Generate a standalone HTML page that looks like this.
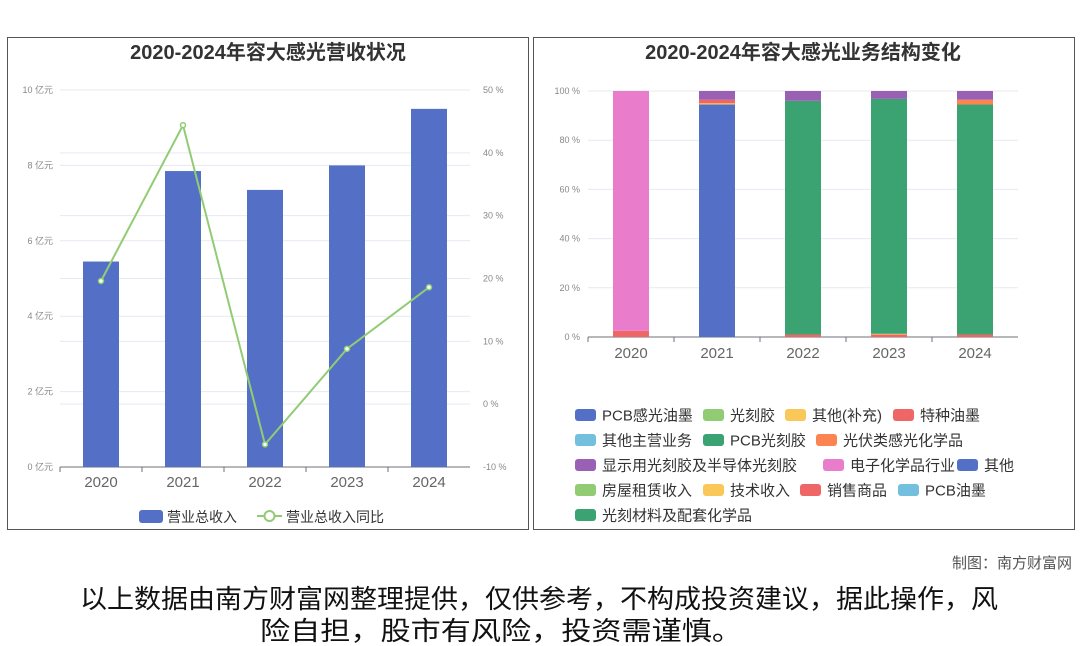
<!DOCTYPE html>
<html><head><meta charset="utf-8"><style>
body{margin:0;width:1080px;height:646px;background:#fff;overflow:hidden;font-family:"Liberation Sans","Noto Sans CJK SC",sans-serif;}
svg{position:absolute;left:0;top:0}
</style></head><body>
<svg id="s" width="1080" height="646" font-family="Liberation Sans, Noto Sans CJK SC, sans-serif">
<rect x="7.5" y="37.5" width="521" height="492" fill="none" stroke="#555"/>
<rect x="533.5" y="37.5" width="541" height="492" fill="none" stroke="#555"/>
<text x="268" y="59" text-anchor="middle" font-size="20" font-weight="bold" fill="#333">2020-2024年容大感光营收状况</text>
<text x="803" y="59" text-anchor="middle" font-size="20" font-weight="bold" fill="#333">2020-2024年容大感光业务结构变化</text>
<text x="1072" y="568" text-anchor="end" font-size="15" fill="#555">制图：南方财富网</text>
<text x="80" y="608" font-size="26" fill="#111" textLength="918" lengthAdjust="spacingAndGlyphs">以上数据由南方财富网整理提供，仅供参考，不构成投资建议，据此操作，风</text>
<text x="260" y="640" font-size="26" fill="#111" textLength="482" lengthAdjust="spacingAndGlyphs">险自担，股市有风险，投资需谨慎。</text>
<g id="L"></g><g id="R"></g>
</svg>
<script>
const years=['2020','2021','2022','2023','2024'];
const revenue=[5.45,7.85,7.35,8.0,9.5];
const growth=[19.6,44.4,-6.4,8.8,18.6];
const leftTicks=[0,2,4,6,8,10];
const rightTicks=[-10,0,10,20,30,40,50];
const segNames=['PCB感光油墨','光刻胶','其他(补充)','特种油墨','其他主营业务','PCB光刻胶','光伏类感光化学品','显示用光刻胶及半导体光刻胶','电子化学品行业','其他','房屋租赁收入','技术收入','销售商品','PCB油墨','光刻材料及配套化学品'];
const segColors=['#5470c6','#91cc75','#fac858','#ee6666','#73c0de','#3ba272','#fc8452','#9a60b4','#ea7ccc','#5470c6','#91cc75','#fac858','#ee6666','#73c0de','#3ba272'];
const stackOrder=[12,8,9,2,3,5,6,7,0,1,4,10,11,13,14];
const share2020=[0,0,0,0,0,0,0,0,97.5,0,0,0,2.5,0,0];
const share2021=[0,0,0.5,1.5,0,0,0,3.5,0,94.5,0,0,0,0,0];
const share2022=[0,0,0,0,0,95,0,4,0,0,0,0,1,0,0];
const share2023=[0,0,0.3,0,0,95.5,0,3.2,0,0,0,0,1,0,0];
const share2024=[0,0,0,0,0,93.5,2,3.5,0,0,0,0,1,0,0];
const shares=[share2020,share2021,share2022,share2023,share2024];
const NS='http://www.w3.org/2000/svg';
function mk(p,t,a){const e=document.createElementNS(NS,t);for(const k in a)e.setAttribute(k,a[k]);p.appendChild(e);return e;}
const L=document.getElementById('L');
const lx0=60,lx1=470,ly0=467,ly1=90;
const yL=v=>ly0-(v-0)/10*(ly0-ly1);
const yR=v=>ly0-(v+10)/60*(ly0-ly1);
const bw=(lx1-lx0)/years.length;
const xc=i=>lx0+bw*(i+0.5);
rightTicks.forEach(t=>{const y=yR(t);
 const g=mk(L,'line',{x1:lx0,x2:lx1,y1:y,y2:y,stroke:'#e6e9f2'});
 
 const tx=mk(L,'text',{x:483,y:y+3,'font-size':9,fill:'#888'});tx.textContent=t+' %';
 });
leftTicks.forEach(t=>{const y=yL(t);
 const g=mk(L,'line',{x1:lx0,x2:lx1,y1:y,y2:y,stroke:'#e6e9f2'});
 
 const tx=mk(L,'text',{x:53,y:y+3,'font-size':9,fill:'#888','text-anchor':'end'});tx.textContent=t+' 亿元';
 });
let ax=mk(L,'line',{x1:lx0,x2:lx1,y1:ly0,y2:ly0,stroke:'#6e7079'});

years.forEach((y,i)=>{
 const tk=mk(L,'line',{x1:lx0+bw*i,x2:lx0+bw*i,y1:ly0,y2:ly0+5,stroke:'#6e7079'});
 
 const b=mk(L,'rect',{x:xc(i)-18,y:yL(revenue[i]),width:36,height:ly0-yL(revenue[i]),fill:'#5470c6'});
 
 const t=mk(L,'text',{x:xc(i),y:487,'font-size':15,fill:'#666','text-anchor':'middle'});t.textContent=y;
 });
const pl=mk(L,'polyline',{points:growth.map((g,i)=>xc(i)+','+yR(g)).join(' '),fill:'none',stroke:'#91cc75','stroke-width':2});

growth.forEach((g,i)=>{const c=mk(L,'circle',{cx:xc(i),cy:yR(g),r:2.5,fill:'#fff',stroke:'#91cc75','stroke-width':1.5});
 });
let lg=mk(L,'rect',{x:139,y:510,width:24,height:13,rx:3,fill:'#5470c6'});

let lt=mk(L,'text',{x:167,y:522,'font-size':14,fill:'#333'});lt.textContent='营业总收入';

let ll=mk(L,'line',{x1:257,x2:282,y1:516,y2:516,stroke:'#91cc75','stroke-width':2});

let lc=mk(L,'circle',{cx:269.5,cy:516,r:5,fill:'#fff',stroke:'#91cc75','stroke-width':2});

let lt2=mk(L,'text',{x:286,y:522,'font-size':14,fill:'#333'});lt2.textContent='营业总收入同比';

const R=document.getElementById('R');
const rx0=588,rx1=1018,ry0=337,ry1=91;
const yP=v=>ry0-v/100*(ry0-ry1);
const rbw=(rx1-rx0)/years.length;
const rxc=i=>rx0+rbw*(i+0.5);
[0,20,40,60,80,100].forEach(t=>{const y=yP(t);
 const g=mk(R,'line',{x1:rx0,x2:rx1,y1:y,y2:y,stroke:'#e6e9f2'});
 
 const tx=mk(R,'text',{x:580,y:y+3,'font-size':9,fill:'#888','text-anchor':'end'});tx.textContent=t+' %';
 });
ax=mk(R,'line',{x1:rx0,x2:rx1,y1:ry0,y2:ry0,stroke:'#6e7079'});

years.forEach((y,i)=>{
 const tk=mk(R,'line',{x1:rx0+rbw*i,x2:rx0+rbw*i,y1:ry0,y2:ry0+5,stroke:'#6e7079'});
 
 let acc=0;
 stackOrder.forEach(k=>{const v=shares[i][k];if(!v)return;
  const r=mk(R,'rect',{x:rxc(i)-18,y:yP(acc+v),width:36,height:yP(acc)-yP(acc+v),fill:segColors[k]});
  acc+=v;});
 const t=mk(R,'text',{x:rxc(i),y:358,'font-size':15,fill:'#666','text-anchor':'middle'});t.textContent=y;
 });
const legPos=[[575,415],[703,415],[785,415],[893,415],[575,440],[703,440],[816,440],[575,465],[823,465],[957,465],[575,490],[703,490],[800,490],[898,490],[575,515]];
segNames.forEach((n,k)=>{const [x,y]=legPos[k];
 const s=mk(R,'rect',{x:x,y:y-6,width:21,height:12,rx:3,fill:segColors[k]});
 
 const t=mk(R,'text',{x:x+27,y:y+5.5,'font-size':15,fill:'#333'});t.textContent=n;
 });
</script>
</body></html>
